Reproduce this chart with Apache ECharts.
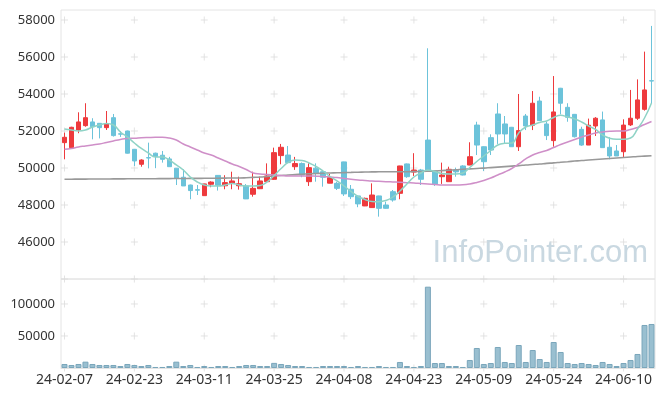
<!DOCTYPE html>
<html><head><meta charset="utf-8">
<script src="https://cdn.jsdelivr.net/npm/echarts@6/dist/echarts.min.js"></script>
<style>html,body{margin:0;padding:0;background:#fff}#c{width:665px;height:396px}</style>
</head><body><div id="c"></div>
<script>
const dates = ['24-02-07','24-02-08','24-02-13','24-02-14','24-02-15','24-02-16','24-02-19','24-02-20','24-02-21','24-02-22',
'24-02-23','24-02-26','24-02-27','24-02-28','24-02-29','24-03-04','24-03-05','24-03-06','24-03-07','24-03-08',
'24-03-11','24-03-12','24-03-13','24-03-14','24-03-15','24-03-18','24-03-19','24-03-20','24-03-21','24-03-22',
'24-03-25','24-03-26','24-03-27','24-03-28','24-03-29','24-04-01','24-04-02','24-04-03','24-04-04','24-04-05',
'24-04-08','24-04-09','24-04-11','24-04-12','24-04-15','24-04-16','24-04-17','24-04-18','24-04-19','24-04-22',
'24-04-23','24-04-24','24-04-25','24-04-26','24-04-29','24-04-30','24-05-02','24-05-03','24-05-07','24-05-08',
'24-05-09','24-05-10','24-05-13','24-05-14','24-05-16','24-05-17','24-05-20','24-05-21','24-05-22','24-05-23',
'24-05-24','24-05-27','24-05-28','24-05-29','24-05-30','24-05-31','24-06-03','24-06-04','24-06-05','24-06-07',
'24-06-10','24-06-11','24-06-12','24-06-13','24-06-14'];

const opens = [51370,51100,52055,52290,52490,52415,52180,52720,51850,52000,
51010,50200,50560,50800,50690,50490,49990,49500,49080,48830,
48505,49120,49600,49040,49170,49040,49030,48580,48880,49260,
49390,50670,50700,50070,50240,49260,49990,49800,49180,49170,
50330,48850,48490,47950,47860,48490,48000,48720,48630,50220,
49780,49890,51510,49840,49530,49260,49890,50110,50160,52320,
51150,51640,52920,52380,52200,51150,52810,52310,53620,52380,
51480,54310,53280,52900,52090,51240,52270,52600,51120,50920,
50880,52330,52690,53170,54720];
const closes = [51660,52200,52490,52720,52230,52180,52380,51750,51830,50800,
50380,50430,50540,50620,50470,50070,49450,49030,48780,48800,
49140,49240,49070,49210,49300,49150,48330,48900,49300,49570,
50830,51120,50290,50240,49620,50020,49710,49500,49480,48900,
48600,48450,48060,48360,48540,47820,47820,48270,50110,49530,
49890,49390,49890,49140,49620,49930,49790,49620,50610,51240,
50340,50970,51840,51840,51150,52020,52270,53500,52560,51750,
53030,53500,52740,51690,51240,52310,52690,51100,50650,50650,
52320,52690,53680,54220,54700];
const lows = [50470,51080,51880,52230,51550,51600,52055,51700,51680,50780,
50110,50070,49980,49990,50290,50060,49080,49030,48310,48540,
48500,48960,48780,48850,48850,48830,48320,48450,48860,49250,
49360,50200,50260,49900,49500,49030,49260,48990,49170,48810,
48490,48320,47880,47940,47850,47370,47800,48180,48310,49470,
49570,49080,49890,49030,49140,49260,49530,49600,50150,50700,
49840,50700,51300,51340,51150,50920,52050,52050,52550,51510,
51150,52900,52500,51650,51200,51240,51730,51100,50470,50650,
50580,52270,52600,53100,53500];
const highs = [51910,52230,53010,53500,52690,52430,53080,52920,52000,52020,
51030,50470,51370,50830,50920,50600,50000,49930,49100,49080,
49150,49280,49620,49610,49800,49530,49130,49800,49530,50250,
51100,51300,51190,50600,50300,50250,50250,49830,49680,49250,
50340,49080,48500,48400,49170,48500,48180,48810,50120,50240,
50800,49950,56470,49840,50290,50070,50020,50150,51390,52500,
51170,51820,53500,52810,52220,54000,52920,54160,53850,52500,
54970,54330,53500,52920,52230,52670,52750,53050,51660,51240,
52630,54220,54790,56290,57680];

const volumes = [6250,4700,6250,9900,6250,4700,4700,4700,3100,6250,
4700,3100,4700,1600,1600,3100,9900,3100,4700,1600,
3100,1600,3100,3100,1600,3100,4700,4700,3100,3100,
8000,6250,4700,3100,3100,1600,1600,3100,3100,3100,
3100,1600,3100,1600,1600,3100,1600,1600,9400,3100,
1600,3100,127000,7800,7800,3100,3100,1600,12500,31250,
6250,7800,32800,9400,7800,35900,9400,28100,14000,9400,
40600,25000,7800,6250,7800,6250,4700,9400,6250,3100,
7800,12500,21900,67200,68750];

const ma5 = [52108,52054,52000,52054,52216,52324,52406,52324,51946,51676,
51352,51055,50811,50595,50595,50433,50163,49892,49514,49244,
49082,49028,49028,49082,49163,49082,49028,49028,49055,49244,
49595,49974,50298,50433,50406,50271,50082,49838,49541,49298,
49028,48731,48460,48298,48190,48179,48244,48433,48758,49136,
49514,49730,49892,49811,49703,49676,49676,49730,50028,50352,
50649,50946,51244,51336,51352,51892,52216,52324,52460,52541,
52730,52849,52757,52649,52487,52271,52082,51784,51606,51552,
51552,51622,52108,52703,53514];
const ma20 = [51011,51055,51136,51190,51244,51298,51379,51460,51541,51595,
51606,51633,51649,51660,51660,51622,51514,51298,51136,50973,
50811,50703,50541,50379,50217,50082,49920,49730,49676,49649,
49622,49595,49568,49568,49568,49568,49557,49541,49514,49487,
49433,49390,49352,49325,49298,49282,49260,49244,49228,49206,
49190,49163,49136,49109,49082,49082,49082,49093,49136,49217,
49325,49460,49622,49784,49974,50217,50487,50703,50838,50946,
51109,51271,51406,51541,51676,51784,51892,51946,51984,52000,
52000,52082,52190,52352,52514];
const ma60 = [49395,49395,49401,49401,49406,49406,49406,49412,49412,49417,
49417,49417,49422,49422,49428,49428,49433,49433,49438,49438,
49444,49449,49449,49455,49460,49460,49471,49492,49514,49541,
49568,49595,49622,49644,49665,49687,49703,49720,49730,49741,
49752,49763,49774,49784,49790,49795,49800,49800,49800,49800,
49806,49811,49822,49838,49860,49882,49903,49930,49952,49974,
49995,50022,50049,50076,50103,50130,50163,50190,50217,50249,
50276,50309,50341,50374,50406,50433,50460,50487,50514,50541,
50568,50595,50622,50644,50665];

const priceTicks = [44000,46000,48000,50000,52000,54000,56000,58000];
const volTicks = [0,50000,100000];
const labelEvery = 10;

const crossCats = dates.filter((d,i)=>i%labelEvery===0);
const priceCross = [], volCross = [];
crossCats.forEach(c=>{ priceTicks.forEach(t=>priceCross.push([c,t])); volTicks.forEach(t=>volCross.push([c,t])); });

const chart = echarts.init(document.getElementById('c'), null, {renderer:'canvas'});
const crossColor = '#dcdcdc';
const plain = v => String(v);
const labelFont = {fontFamily:'Noto Sans', fontSize:13, color:'#333'};
const crossSeries = (data, xi, yi) => [
  {type:'scatter', xAxisIndex:xi, yAxisIndex:yi, data, symbol:'rect', symbolSize:[7,1], itemStyle:{color:crossColor}, silent:true, z:1, clip:false},
  {type:'scatter', xAxisIndex:xi, yAxisIndex:yi, data, symbol:'rect', symbolSize:[1,7], itemStyle:{color:crossColor}, silent:true, z:1, clip:false}
];

chart.setOption({
  animation:false,
  backgroundColor:'#fff',
  grid:[
    {left:61, right:10, top:10, height:269, show:true, borderColor:'#e4e4e4', borderWidth:1, backgroundColor:'transparent'},
    {left:61, right:10, top:279, height:89, show:true, borderColor:'#e4e4e4', borderWidth:1, backgroundColor:'transparent'}
  ],
  xAxis:[
    {type:'category', gridIndex:0, data:dates, boundaryGap:true, axisLine:{show:false}, axisTick:{show:false}, axisLabel:{show:false}, splitLine:{show:false}},
    {type:'category', gridIndex:1, data:dates, boundaryGap:true, axisLine:{show:true, lineStyle:{color:'#e4e4e4'}}, axisTick:{show:false},
      axisLabel:Object.assign({interval:labelEvery-1, margin:5}, labelFont, {fontSize:14}), splitLine:{show:false}}
  ],
  yAxis:[
    {type:'value', gridIndex:0, min:44000, max:58540, interval:2000, axisLine:{show:false}, axisTick:{show:false}, splitLine:{show:false},
      axisLabel:Object.assign({showMinLabel:false, showMaxLabel:false, margin:6, formatter:plain}, labelFont)},
    {type:'value', gridIndex:1, min:0, max:139000, interval:50000, axisLine:{show:false}, axisTick:{show:false}, splitLine:{show:false},
      axisLabel:Object.assign({showMinLabel:false, showMaxLabel:false, margin:6, formatter:plain}, labelFont)}
  ],
  graphic:[{type:'text', right:17, top:238, z:0, silent:true,
    style:{text:'InfoPointer.com', font:'31px "Liberation Sans"', fill:'#c9d8e1'}}],
  series:[
    ...crossSeries(priceCross,0,0),
    ...crossSeries(volCross,1,1),
    {type:'candlestick', xAxisIndex:0, yAxisIndex:0, barWidth:5, z:3,
      data: dates.map((d,i)=>[opens[i],closes[i],lows[i],highs[i]]),
      itemStyle:{color:'#ee3a3d', color0:'#6cc3da', borderColor:'#ee3a3d', borderColor0:'#6cc3da', borderWidth:1}},
    {type:'line', xAxisIndex:0, yAxisIndex:0, data:ma60, showSymbol:false, smooth:true, z:4, lineStyle:{color:'#999999', width:1.6}},
    {type:'line', xAxisIndex:0, yAxisIndex:0, data:ma20, showSymbol:false, smooth:true, z:4, lineStyle:{color:'#cf8fc8', width:1.5}},
    {type:'line', xAxisIndex:0, yAxisIndex:0, data:ma5, showSymbol:false, smooth:true, z:5, lineStyle:{color:'#8fd3c6', width:1.5}},
    {type:'bar', xAxisIndex:1, yAxisIndex:1, data:volumes, barWidth:6, z:3,
      itemStyle:{color:'#99bfd0', borderColor:'#7aa6bb', borderWidth:1}}
  ]
});
</script></body></html>
